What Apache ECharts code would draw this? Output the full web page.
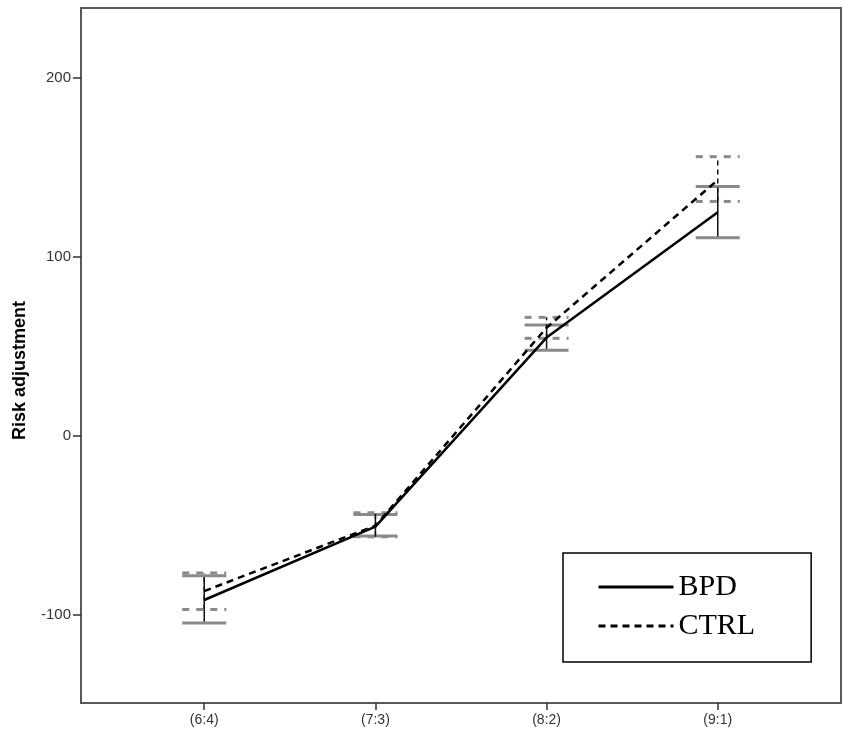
<!DOCTYPE html>
<html>
<head>
<meta charset="utf-8">
<script src="https://cdn.jsdelivr.net/npm/echarts@6/dist/echarts.min.js"></script>
<style>html,body{margin:0;padding:0;background:#fff;}#c{width:851px;height:739px;}</style>
</head>
<body>
<div id="c"></div>
<script>
const categories = ['(6:4)', '(7:3)', '(8:2)', '(9:1)'];
const yTicks = [-100, 0, 100, 200];
const bpdMean = [-91.5, -50.5, 55, 125];
const bpdLow = [-104.3, -55.7, 48, 110.8];
const bpdHigh = [-78, -43.8, 62, 139.3];
const ctrlMean = [-86.5, -50, 60.5, 143];
const ctrlLow = [-96.8, -56.2, 54.6, 131];
const ctrlHigh = [-76.4, -42.8, 66.3, 156];

const chart = echarts.init(document.getElementById('c'));

function errData(low, high) {
  return categories.map((c, i) => [i, low[i], high[i]]);
}
function makeErr(dashed) {
  return function (params, api) {
    const x = api.value(0);
    const lo = api.coord([x, api.value(1)]);
    const hi = api.coord([x, api.value(2)]);
    const w = 22;
    const capStyle = { stroke: '#8a8a8a', lineWidth: 3, lineDash: dashed ? [7, 7] : null };
    const vStyle = { stroke: '#111', lineWidth: 1.5, lineDash: dashed ? [5, 4] : null };
    return {
      type: 'group',
      children: [
        { type: 'line', shape: { x1: lo[0], y1: lo[1], x2: hi[0], y2: hi[1] }, style: vStyle },
        { type: 'line', shape: { x1: lo[0] - w, y1: lo[1], x2: lo[0] + w, y2: lo[1] }, style: capStyle },
        { type: 'line', shape: { x1: hi[0] - w, y1: hi[1], x2: hi[0] + w, y2: hi[1] }, style: capStyle }
      ]
    };
  };
}

chart.setOption({
  animation: false,
  backgroundColor: '#fff',
  grid: { left: 81, top: 8, right: 10, bottom: 36, show: true, borderColor: '#595959', borderWidth: 2, backgroundColor: 'transparent' },
  xAxis: {
    type: 'value', min: -0.72, max: 3.72,
    axisLine: { show: true, onZero: false, lineStyle: { color: '#595959', width: 2 } },
    axisTick: { show: true, customValues: [0, 1, 2, 3], length: 7, lineStyle: { color: '#333', width: 1.5 } },
    axisLabel: { customValues: [0, 1, 2, 3], formatter: v => categories[Math.round(v)] || '', color: '#333', fontSize: 14, fontFamily: 'Liberation Sans', margin: 10 },
    splitLine: { show: false }
  },
  yAxis: {
    type: 'value', min: -149, max: 239,
    name: 'Risk adjustment', nameLocation: 'middle', nameGap: 52,
    nameTextStyle: { fontSize: 18, fontWeight: 'bold', color: '#000', fontFamily: 'Liberation Sans', padding: [0, 30, 0, 0] },
    axisLine: { show: true, onZero: false, lineStyle: { color: '#595959', width: 2 } },
    axisTick: { show: true, customValues: yTicks, length: 8, lineStyle: { color: '#333', width: 1.5 } },
    axisLabel: { customValues: yTicks, color: '#333', fontSize: 15, fontFamily: 'Liberation Sans', margin: 10 },
    splitLine: { show: false }
  },
  legend: {
    orient: 'vertical', left: 563, top: 553,
    data: ['BPD', 'CTRL'],
    padding: [19, 56, 21, 34],
    itemWidth: 75, itemHeight: 14, itemGap: 9,
    borderColor: '#000', borderWidth: 1.5,
    itemStyle: { color: 'rgba(0,0,0,0)', borderWidth: 0 },
    lineStyle: { width: 3 },
    textStyle: { fontFamily: 'Liberation Serif', fontSize: 30, color: '#000' }
  },
  series: [
    { name: 'BPDerr', type: 'custom', renderItem: makeErr(false), data: errData(bpdLow, bpdHigh), z: 1 },
    { name: 'CTRLerr', type: 'custom', renderItem: makeErr(true), data: errData(ctrlLow, ctrlHigh), z: 1 },
    { name: 'BPD', type: 'line', symbol: 'none', data: categories.map((c, i) => [i, bpdMean[i]]), lineStyle: { color: '#000', width: 2.5 }, itemStyle: { color: '#000' }, z: 3 },
    { name: 'CTRL', type: 'line', symbol: 'none', data: categories.map((c, i) => [i, ctrlMean[i]]), lineStyle: { color: '#000', width: 2.5, type: [7, 5] }, itemStyle: { color: '#000' }, z: 3 }
  ]
});
</script>
</body>
</html>
